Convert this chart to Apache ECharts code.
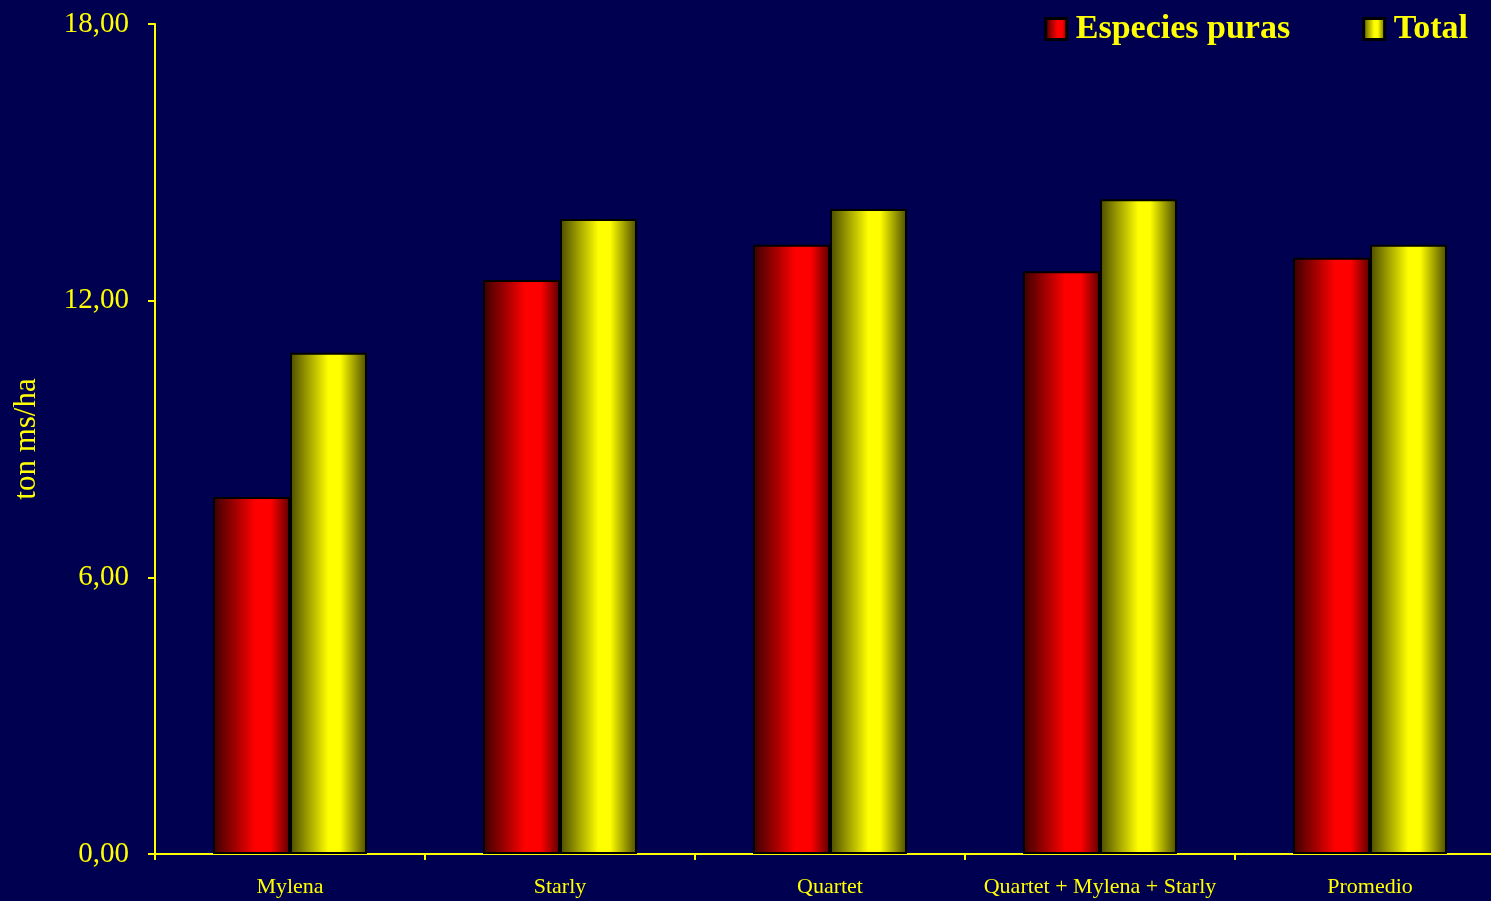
<!DOCTYPE html>
<html><head><meta charset="utf-8">
<script src="https://cdn.jsdelivr.net/npm/echarts@6/dist/echarts.min.js"></script>
<style>html,body{margin:0;padding:0;background:#000050;}#c{width:1491px;height:901px;}</style>
</head><body><div id="c"></div>
<script>
const categories = ['Mylena', 'Starly', 'Quartet', 'Quartet + Mylena + Starly', 'Promedio'];
const especiesPuras = [7.74, 12.45, 13.21, 12.64, 12.93];
const total = [10.87, 13.77, 13.99, 14.20, 13.21];
const yTicks = [0, 6, 12, 18];

const font = '"Liberation Serif", "Times New Roman", serif';
const chart = echarts.init(document.getElementById('c'));
const redGrad = new echarts.graphic.LinearGradient(0, 0, 1, 0, [
  {offset: 0, color: '#3a0000'}, {offset: 0.55, color: '#ff0000'}, {offset: 0.75, color: '#ff0000'}, {offset: 1, color: '#5a0000'}]);
const yelGrad = new echarts.graphic.LinearGradient(0, 0, 1, 0, [
  {offset: 0, color: '#4a4a00'}, {offset: 0.5, color: '#ffff00'}, {offset: 0.65, color: '#ffff00'}, {offset: 1, color: '#4a4a00'}]);
chart.setOption({
  backgroundColor: '#000050',
  animation: false,
  grid: {left: 155, top: 24, width: 1350, height: 830, outerBoundsMode: 'none', containLabel: false},
  legend: {
    right: 18, top: 7, itemGap: 72, itemWidth: 21, itemHeight: 21, icon: 'rect',
    textStyle: {color: '#ffff00', fontFamily: font, fontSize: 34, fontWeight: 'bold', padding: [0, 0, 0, 4]},
    data: [
      {name: 'Especies puras', itemStyle: {color: redGrad, borderColor: '#000', borderWidth: 3}},
      {name: 'Total', itemStyle: {color: yelGrad, borderColor: '#000', borderWidth: 3}}
    ]
  },
  xAxis: {
    type: 'category', data: categories,
    axisLine: {lineStyle: {color: '#ffff00', width: 2}},
    axisTick: {show: true, interval: 0, length: 6, lineStyle: {color: '#ffff00', width: 2}},
    axisLabel: {interval: 0, color: '#ffff00', fontFamily: font, fontSize: 22, margin: 22}
  },
  yAxis: {
    type: 'value', min: yTicks[0], max: yTicks[yTicks.length - 1], interval: 6,
    name: 'ton ms/ha', nameLocation: 'middle', nameGap: 113, nameRotate: 90,
    nameTextStyle: {color: '#ffff00', fontFamily: font, fontSize: 31},
    axisLine: {show: true, lineStyle: {color: '#ffff00', width: 2}},
    axisTick: {show: true, length: 7, lineStyle: {color: '#ffff00', width: 2}},
    splitLine: {show: false},
    axisLabel: {color: '#ffff00', fontFamily: font, fontSize: 29, margin: 26,
      formatter: v => v.toFixed(2).replace('.', ',')}
  },
  series: [
    {name: 'Especies puras', type: 'bar', data: especiesPuras, barWidth: 77, barGap: '0%',
      itemStyle: {color: redGrad, borderColor: '#000', borderWidth: 2}},
    {name: 'Total', type: 'bar', data: total, barWidth: 77,
      itemStyle: {color: yelGrad, borderColor: '#000', borderWidth: 2}}
  ]
});
</script></body></html>
